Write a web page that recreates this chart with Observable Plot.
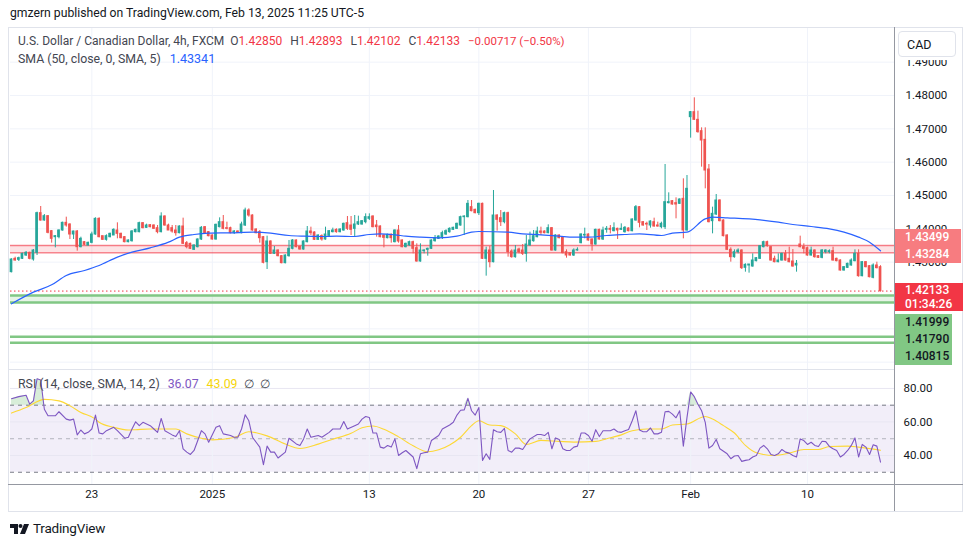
<!DOCTYPE html>
<html><head><meta charset="utf-8">
<script src="https://cdn.jsdelivr.net/npm/d3@7"></script>
<script src="https://cdn.jsdelivr.net/npm/@observablehq/plot@0.6"></script>
<style>
body{margin:0;background:#fff;font-family:Roboto,"Noto Sans",sans-serif;color:#131722;}
#root{position:relative;width:970px;height:545px;overflow:hidden;background:#fff;}
.abs{position:absolute;white-space:nowrap;}
.line{position:absolute;}
</style></head><body><div id="root"></div>
<script>
// ---------- data ----------
const opens = [1.4270,1.4310,1.4307,1.4310,1.4320,1.4328,1.4308,1.4328,1.4447,1.4425,
1.4438,1.4393,1.4375,1.4375,1.4395,1.4418,1.4413,1.4383,1.4392,1.4345,
1.4360,1.4350,1.4358,1.4383,1.4430,1.4378,1.4367,1.4375,1.4380,1.4395,
1.4385,1.4375,1.4360,1.4363,1.4390,1.4390,1.4417,1.4403,1.4411,1.4410,
1.4402,1.4390,1.4437,1.4410,1.4402,1.4395,1.4387,1.4407,1.4357,1.4355,
1.4337,1.4345,1.4368,1.4405,1.4390,1.4380,1.4368,1.4405,1.4420,1.4402,
1.4402,1.4388,1.4392,1.4387,1.4410,1.4455,1.4440,1.4398,1.4390,1.4375,
1.4300,1.4362,1.4325,1.4335,1.4318,1.4297,1.4318,1.4340,1.4365,1.4346,
1.4338,1.4360,1.4392,1.4389,1.4367,1.4378,1.4368,1.4379,1.4390,1.4397,
1.4390,1.4395,1.4417,1.4410,1.4400,1.4413,1.4413,1.4420,1.4430,1.4437,
1.4410,1.4407,1.4380,1.4372,1.4382,1.4360,1.4395,1.4365,1.4345,1.4350,
1.4360,1.4342,1.4302,1.4333,1.4337,1.4340,1.4363,1.4370,1.4375,1.4383,
1.4390,1.4397,1.4400,1.4410,1.4435,1.4435,1.4465,1.4457,1.4447,1.4475,
1.4310,1.4335,1.4300,1.4440,1.4432,1.4420,1.4447,1.4332,1.4315,1.4338,
1.4335,1.4325,1.4350,1.4363,1.4375,1.4392,1.4392,1.4387,1.4402,1.4335,
1.4380,1.4375,1.4330,1.4327,1.4320,1.4335,1.4357,1.4380,1.4383,1.4368,
1.4353,1.4397,1.4368,1.4397,1.4400,1.4393,1.4400,1.4397,1.4390,1.4401,
1.4393,1.4425,1.4465,1.4420,1.4415,1.4410,1.4420,1.4410,1.4405,1.4405,
1.4477,1.4483,1.4477,1.4475,1.4490,1.4395,1.4735,1.4750,1.4727,1.4693,
1.4667,1.4578,1.4423,1.4443,1.4485,1.4425,1.4380,1.4337,1.4315,1.4330,
1.4335,1.4283,1.4290,1.4287,1.4303,1.4310,1.4345,1.4360,1.4345,1.4310,
1.4300,1.4305,1.4325,1.4310,1.4302,1.4290,1.4353,1.4345,1.4342,1.4320,
1.4335,1.4318,1.4313,1.4330,1.4330,1.4333,1.4310,1.4305,1.4275,1.4283,
1.4290,1.4303,1.4325,1.4258,1.4300,1.4288,1.4253,1.4290,1.42850];
const highs = [1.4310,1.4315,1.4315,1.4327,1.4332,1.4330,1.4338,1.4450,1.4467,1.4443,
1.4440,1.4395,1.4380,1.4397,1.4420,1.4435,1.4415,1.4393,1.4395,1.4375,
1.4362,1.4360,1.4390,1.4433,1.4433,1.4378,1.4382,1.4387,1.4400,1.4418,
1.4387,1.4377,1.4367,1.4395,1.4399,1.4420,1.4419,1.4414,1.4413,1.4412,
1.4410,1.4448,1.4439,1.4414,1.4410,1.4410,1.4409,1.4432,1.4362,1.4357,
1.4352,1.4370,1.4407,1.4407,1.4392,1.4382,1.4414,1.4433,1.4440,1.4420,
1.4405,1.4395,1.4394,1.4420,1.4462,1.4460,1.4442,1.4400,1.4395,1.4377,
1.4378,1.4364,1.4347,1.4337,1.4320,1.4322,1.4365,1.4368,1.4367,1.4348,
1.4364,1.4407,1.4405,1.4391,1.4382,1.4382,1.4405,1.4395,1.4402,1.4400,
1.4400,1.4417,1.4437,1.4437,1.4440,1.4438,1.4425,1.4445,1.4445,1.4439,
1.4425,1.4409,1.4382,1.4384,1.4385,1.4397,1.4410,1.4367,1.4357,1.4363,
1.4363,1.4355,1.4355,1.4337,1.4342,1.4367,1.4380,1.4379,1.4393,1.4397,
1.4403,1.4405,1.4417,1.4438,1.4439,1.4485,1.4485,1.4459,1.4477,1.4477,
1.4345,1.4347,1.4515,1.4442,1.4455,1.4450,1.4450,1.4337,1.4350,1.4342,
1.4353,1.4380,1.4390,1.4395,1.4405,1.4405,1.4394,1.4412,1.4404,1.4382,
1.4382,1.4377,1.4337,1.4329,1.4340,1.4343,1.4385,1.4402,1.4385,1.4370,
1.4399,1.4399,1.4405,1.4407,1.4410,1.4418,1.4402,1.4415,1.4407,1.4403,
1.4430,1.4470,1.4467,1.4422,1.4420,1.4424,1.4432,1.4420,1.4420,1.4593,
1.4508,1.4485,1.4493,1.4490,1.4550,1.4560,1.4752,1.4793,1.4753,1.4703,
1.4703,1.4593,1.4465,1.4503,1.4487,1.4427,1.4382,1.4343,1.4337,1.4340,
1.4337,1.4295,1.4293,1.4325,1.4314,1.4350,1.4363,1.4363,1.4347,1.4318,
1.4325,1.4327,1.4335,1.4345,1.4338,1.4305,1.4378,1.4355,1.4345,1.4345,
1.4337,1.4320,1.4338,1.4337,1.4337,1.4345,1.4312,1.4307,1.4287,1.4297,
1.4310,1.4337,1.4337,1.4302,1.4302,1.4290,1.4295,1.4300,1.42893];
const lows = [1.4268,1.4303,1.4302,1.4308,1.4317,1.4307,1.4303,1.4320,1.4423,1.4423,
1.4385,1.4357,1.4343,1.4370,1.4393,1.4405,1.4368,1.4368,1.4333,1.4343,
1.4350,1.4348,1.4355,1.4381,1.4373,1.4365,1.4363,1.4373,1.4380,1.4370,
1.4370,1.4358,1.4358,1.4360,1.4388,1.4388,1.4400,1.4401,1.4403,1.4398,
1.4385,1.4388,1.4408,1.4398,1.4387,1.4378,1.4385,1.4353,1.4340,1.4338,
1.4335,1.4343,1.4365,1.4383,1.4376,1.4366,1.4366,1.4403,1.4397,1.4397,
1.4385,1.4383,1.4386,1.4385,1.4407,1.4435,1.4393,1.4385,1.4357,1.4295,
1.4278,1.4323,1.4323,1.4316,1.4295,1.4295,1.4315,1.4337,1.4343,1.4336,
1.4336,1.4358,1.4380,1.4365,1.4365,1.4363,1.4366,1.4377,1.4388,1.4387,
1.4388,1.4393,1.4395,1.4380,1.4375,1.4410,1.4411,1.4415,1.4425,1.4403,
1.4375,1.4373,1.4343,1.4370,1.4357,1.4358,1.4357,1.4343,1.4343,1.4348,
1.4325,1.4300,1.4300,1.4325,1.4318,1.4338,1.4360,1.4368,1.4368,1.4380,
1.4387,1.4395,1.4398,1.4408,1.4380,1.4433,1.4451,1.4445,1.4440,1.4308,
1.4258,1.4283,1.4298,1.4393,1.4407,1.4415,1.4315,1.4312,1.4312,1.4325,
1.4320,1.4300,1.4348,1.4360,1.4373,1.4380,1.4385,1.4385,1.4333,1.4333,
1.4370,1.4325,1.4312,1.4318,1.4317,1.4333,1.4355,1.4370,1.4363,1.4333,
1.4351,1.4366,1.4365,1.4387,1.4385,1.4391,1.4368,1.4395,1.4387,1.4391,
1.4391,1.4423,1.4403,1.4408,1.4395,1.4402,1.4405,1.4405,1.4400,1.4398,
1.4475,1.4471,1.4430,1.4473,1.4370,1.4393,1.4672,1.4725,1.4687,1.4585,
1.4520,1.4418,1.4385,1.4440,1.4421,1.4376,1.4335,1.4300,1.4312,1.4325,
1.4278,1.4270,1.4267,1.4285,1.4301,1.4308,1.4343,1.4345,1.4303,1.4298,
1.4298,1.4303,1.4303,1.4298,1.4285,1.4270,1.4343,1.4325,1.4318,1.4318,
1.4312,1.4311,1.4310,1.4325,1.4325,1.4303,1.4301,1.4273,1.4273,1.4281,
1.4288,1.4301,1.4255,1.4256,1.4283,1.4253,1.4250,1.4280,1.42102];
const closes = [1.4308,1.4305,1.4312,1.4325,1.4328,1.4310,1.4335,1.4447,1.4425,1.4438,
1.4388,1.4370,1.4378,1.4395,1.4418,1.4410,1.4383,1.4392,1.4345,1.4370,
1.4352,1.4358,1.4383,1.4430,1.4375,1.4367,1.4378,1.4385,1.4397,1.4385,
1.4372,1.4360,1.4365,1.4392,1.4397,1.4417,1.4402,1.4410,1.4405,1.4400,
1.4390,1.4437,1.4410,1.4395,1.4392,1.4387,1.4407,1.4355,1.4345,1.4340,
1.4350,1.4368,1.4403,1.4385,1.4378,1.4368,1.4412,1.4420,1.4400,1.4400,
1.4387,1.4392,1.4388,1.4413,1.4455,1.4440,1.4395,1.4387,1.4372,1.4298,
1.4362,1.4325,1.4335,1.4318,1.4297,1.4320,1.4340,1.4365,1.4345,1.4338,
1.4362,1.4392,1.4387,1.4367,1.4380,1.4368,1.4383,1.4393,1.4395,1.4390,
1.4398,1.4415,1.4400,1.4397,1.4413,1.4420,1.4423,1.4435,1.4435,1.4405,
1.4405,1.4375,1.4373,1.4382,1.4372,1.4395,1.4362,1.4345,1.4355,1.4360,
1.4340,1.4302,1.4335,1.4335,1.4340,1.4365,1.4372,1.4377,1.4387,1.4393,
1.4400,1.4403,1.4415,1.4435,1.4437,1.4475,1.4453,1.4447,1.4475,1.4310,
1.4335,1.4300,1.4440,1.4427,1.4420,1.4447,1.4330,1.4315,1.4335,1.4330,
1.4325,1.4353,1.4365,1.4378,1.4392,1.4388,1.4387,1.4402,1.4335,1.4380,
1.4372,1.4327,1.4320,1.4320,1.4335,1.4337,1.4383,1.4382,1.4365,1.4353,
1.4397,1.4368,1.4395,1.4400,1.4397,1.4402,1.4395,1.4400,1.4403,1.4393,
1.4428,1.4465,1.4418,1.4410,1.4413,1.4422,1.4407,1.4407,1.4415,1.4480,
1.4480,1.4473,1.4473,1.4488,1.4395,1.4520,1.4750,1.4727,1.4690,1.4665,
1.4575,1.4420,1.4445,1.4485,1.4423,1.4378,1.4337,1.4315,1.4330,1.4335,
1.4282,1.4292,1.4293,1.4305,1.4312,1.4348,1.4360,1.4348,1.4305,1.4300,
1.4305,1.4325,1.4305,1.4300,1.4287,1.4295,1.4345,1.4340,1.4320,1.4335,
1.4315,1.4313,1.4335,1.4335,1.4333,1.4305,1.4303,1.4275,1.4285,1.4295,
1.4305,1.4325,1.4258,1.4300,1.4285,1.4255,1.4290,1.4282,1.42133];

const smaIdx = [0,6,11,15,20,24,29,33,38,43,46,50,54,60,66,71,76,80,85,89,94,98,101,105,108,112,117,122,126,128,136,140,145,150,154,158,163,168,172,178,181,185,190,192,196,205,210,214,219,224,228,232,235,238];
const smaVal = [1.4175,1.4210,1.4232,1.4260,1.4275,1.4290,1.4315,1.4330,1.4343,1.4360,1.4375,1.4383,1.4387,1.4388,1.4390,1.4387,1.4380,1.4378,1.4377,1.4378,1.4377,1.4383,1.4385,1.4382,1.4378,1.4375,1.4373,1.4378,1.4390,1.4392,1.4390,1.4385,1.4382,1.4378,1.4375,1.4375,1.4380,1.4383,1.4385,1.4380,1.4387,1.4390,1.4430,1.4435,1.4433,1.4427,1.4420,1.4413,1.4407,1.4400,1.4390,1.4375,1.4360,1.43341];

const rsiIdx = [0,2,4,5,6,7,8,9,10,12,13,15,16,17,18,19,20,21,22,23,24,25,26,28,29,31,32,33,34,35,36,38,39,40,41,42,44,45,46,47,48,49,50,52,53,54,56,57,58,60,61,62,63,64,65,66,67,68,69,70,71,72,73,75,76,78,79,80,81,82,84,85,87,88,90,91,92,94,95,96,97,98,99,100,101,102,103,104,105,106,107,108,110,111,112,113,114,115,117,118,120,121,122,123,124,125,126,127,128,129,130,131,132,133,134,135,136,137,138,139,140,141,142,144,145,146,147,148,149,150,151,152,153,154,155,156,157,158,159,160,161,162,163,164,165,166,167,168,169,170,171,172,173,174,175,176,177,178,179,180,181,182,183,184,185,186,187,188,189,190,191,192,193,194,196,197,198,199,200,201,202,203,204,205,206,207,208,209,210,211,212,213,214,215,216,217,218,219,220,221,222,223,224,225,226,227,228,229,230,231,232,233,234,235,236,237,238];
const rsiVal = [73.9,75.1,75.9,70.6,72.6,85.8,85.0,67.6,63.7,63.7,66.1,61.7,61.1,61.7,52.3,55.2,52.9,53.8,55.8,64.1,53.4,52.9,54.8,56.8,54.8,50.3,50.9,55.8,60.1,57.8,59.8,57.8,55.8,53.8,62.1,54.8,52.3,51.3,54.8,44.0,42.0,40.6,43.0,54.8,52.9,47.9,56.8,57.8,52.9,51.9,50.9,50.9,55.8,64.3,60.7,50.9,47.9,45.0,34.5,45.6,42.0,42.0,38.5,42.0,50.3,46.9,46.0,49.9,55.8,50.9,51.9,50.9,53.8,55.8,55.8,60.3,55.8,57.8,58.8,61.7,63.3,62.7,53.4,53.4,45.0,44.4,46.0,45.0,49.9,40.0,41.6,43.0,39.1,32.2,41.0,41.6,42.0,48.9,51.9,55.8,58.2,59.8,64.1,67.0,67.2,74.1,66.7,64.1,68.6,37.1,41.0,37.7,55.4,54.2,53.8,56.2,43.0,42.0,44.4,44.4,43.6,46.9,49.9,52.5,52.5,51.9,53.8,44.0,50.5,49.5,44.0,43.0,43.0,45.0,45.6,53.4,53.4,51.9,48.5,55.4,51.3,54.8,54.8,54.8,55.8,54.2,53.8,54.8,55.5,60.7,66.7,55.2,54.2,54.2,56.4,52.9,52.9,53.8,66.1,66.3,64.7,62.5,66.7,45.6,62.7,77.9,75.1,70.6,66.7,59.8,44.4,46.0,49.5,44.0,41.0,38.1,39.7,40.0,36.5,37.1,37.5,39.1,40.0,44.4,46.0,44.0,40.6,40.0,41.0,43.6,42.0,41.4,40.0,39.1,49.9,48.9,46.6,47.9,46.0,45.4,48.5,48.3,45.4,44.0,43.0,39.1,40.6,43.0,46.0,50.5,39.1,46.6,45.0,40.6,46.4,45.6,36.07];

const rsiMaIdx = [0,4,9,13,16,19,23,24,28,32,34,38,45,48,52,55,61,65,67,70,75,79,84,88,93,96,99,102,106,110,114,117,120,123,126,128,131,134,138,141,145,150,154,160,163,167,170,174,178,181,185,190,192,195,198,201,204,209,213,217,221,224,229,232,238];
const rsiMaVal = [65.3,68.6,73.5,72.6,69.7,65.7,61.7,59.8,56.8,55.2,55.4,55.8,55.8,52.9,50.3,49.3,50.7,54.2,53.6,51.7,46.8,44.2,46.8,49.7,53.2,56.6,57.6,55.6,51.1,45.8,42.2,43.4,46.3,50.9,57.8,60.7,58.2,57.8,52.9,46.6,49.0,48.4,48.0,48.4,50.0,52.3,54.8,55.8,55.8,58.2,58.8,63.3,61.7,57.8,53.4,46.0,41.6,40.0,41.4,43.6,43.6,45.4,45.6,45.0,43.09];

const priceTicks = [1.40,1.41,1.42,1.43,1.44,1.45,1.46,1.47,1.48,1.49];
const priceTickLabels = [1.43,1.44,1.45,1.46,1.47,1.48,1.49];
const rsiTicks = [80,60,40];
const dateIdx = [22,55,98,128,158,186,218];
const dateLabels = ["23","2025","13","20","27","Feb","10"];
const redLevels = [1.43499,1.43284];
const greenBand = [1.41999,1.41790];
const greenLower = [1.40760,1.40580];
const greenLabels = [1.41999,1.41790,1.40815];
const legendOHLC = {O:"1.42850",H:"1.42893",L:"1.42102",C:"1.42133",chg:"\u22120.00717 (\u22120.50%)"};
const countdown = "01:34:26";

// ---------- styling / layout ----------
const FONT = "Roboto, 'Noto Sans', sans-serif";
const UP = "#26a69a", DOWN = "#ef5350", GRID = "#f0f3fa";
const xDomain = [-0.274, 241.83];
const root = document.getElementById("root");

const candles = opens.map((o, i) => ({i, open: o, high: highs[i], low: lows[i], close: closes[i]}));
const col = d => d.close >= d.open ? UP : DOWN;
const sma = smaIdx.map((i, k) => ({i, v: smaVal[k]}));
const rsi = rsiIdx.map((i, k) => ({i, v: rsiVal[k]}));
const rsiMa = rsiMaIdx.map((i, k) => ({i, v: rsiMaVal[k]}));
const last = closes[closes.length - 1];

function place(el, left, top) {
  const d = document.createElement("div");
  d.className = "abs"; d.style.left = left + "px"; d.style.top = top + "px";
  d.appendChild(el); root.appendChild(d); return d;
}

const pricePlot = Plot.plot({
  width: 970, height: 342, marginLeft: 10, marginRight: 76, marginTop: 0, marginBottom: 0,
  style: {fontFamily: FONT, fontSize: "11.5px", background: "transparent", overflow: "visible"},
  x: {domain: xDomain, axis: null},
  y: {domain: [1.3978, 1.5004], axis: null},
  color: {type: "identity"},
  marks: [
    Plot.ruleY(priceTicks, {stroke: GRID}),
    Plot.ruleX(dateIdx, {stroke: GRID}),
    Plot.rect([redLevels], {y1: d => d[0], y2: d => d[1], fill: "#f23645", fillOpacity: 0.14}),
    Plot.ruleY(redLevels, {stroke: "#f23645", strokeOpacity: 0.6, strokeWidth: 1.5}),
    Plot.rect([greenBand], {y1: d => d[0], y2: d => d[1], fill: "#4caf50", fillOpacity: 0.14}),
    Plot.ruleY(greenBand, {stroke: "#81c784", strokeWidth: 2.5}),
    Plot.ruleY(greenLower, {stroke: "#81c784", strokeWidth: 2.5}),
    Plot.ruleY([last], {stroke: "#f23645", strokeDasharray: "1.5,2.5"}),
    Plot.ruleX(candles, {x: "i", y1: "low", y2: "high", stroke: col, strokeWidth: 1}),
    Plot.rectY(candles, {x1: d => d.i - 0.37, x2: d => d.i + 0.37, y1: "open", y2: "close", fill: col, insetTop: -0.5, insetBottom: -0.5}),
    Plot.line(sma, {x: "i", y: "v", stroke: "#2962ff", strokeWidth: 1.2, curve: "monotone-x"}),
    Plot.axisY({ticks: priceTickLabels, anchor: "right", label: null, tickSize: 0, tickPadding: 11, tickFormat: d => d.toFixed(5), fill: "#131722"})
  ]
});
place(pricePlot, 0, 27);

const rsiPlot = Plot.plot({
  width: 970, height: 141, marginLeft: 10, marginRight: 76, marginTop: 0, marginBottom: 27,
  style: {fontFamily: FONT, fontSize: "11.5px", background: "transparent", overflow: "visible"},
  x: {domain: xDomain, axis: null},
  y: {domain: [22.7, 90.7], axis: null},
  marks: [
    Plot.rect([0], {y1: 30, y2: 70, fill: "#7e57c2", fillOpacity: 0.1}),
    Plot.ruleY([80, 60, 40], {stroke: "#e8e6f2"}),
    Plot.ruleX(dateIdx, {stroke: GRID}),
    Plot.ruleY([70, 30], {stroke: "#787b86", strokeDasharray: "4,4"}),
    Plot.ruleY([50], {stroke: "#787b86", strokeOpacity: 0.5, strokeDasharray: "4,4"}),
    Plot.areaY(rsi, {x: "i", y1: 70, y2: d => Math.max(70, d.v), fill: "#4caf50", fillOpacity: 0.22}),
    Plot.line(rsiMa, {x: "i", y: "v", stroke: "#fdd835", strokeWidth: 1.1, curve: "monotone-x"}),
    Plot.line(rsi, {x: "i", y: "v", stroke: "#7e57c2", strokeWidth: 1.1}),
    Plot.axisY({ticks: rsiTicks, anchor: "right", label: null, tickSize: 0, tickPadding: 9, tickFormat: d => d.toFixed(2), fill: "#131722"}),
    Plot.axisX({ticks: dateIdx, anchor: "bottom", label: null, tickSize: 0, tickPadding: 5, tickFormat: d => dateLabels[dateIdx.indexOf(d)], fill: "#131722"})
  ]
});
place(rsiPlot, 0, 370);

// ---------- chrome: frame lines ----------
function hline(x1, x2, y, color) { const d = document.createElement("div"); d.className = "line";
  Object.assign(d.style, {left: x1 + "px", top: y + "px", width: (x2 - x1) + "px", height: "1px", background: color}); root.appendChild(d); }
function vline(x, y1, y2, color) { const d = document.createElement("div"); d.className = "line";
  Object.assign(d.style, {left: x + "px", top: y1 + "px", width: "1px", height: (y2 - y1) + "px", background: color}); root.appendChild(d); }
hline(8, 963, 27, "#e0e3eb");
hline(8, 963, 511, "#e0e3eb");
vline(8, 27, 511, "#e0e3eb");
vline(962, 27, 511, "#e0e3eb");
hline(8, 895, 369, "#e0e3eb");
hline(8, 963, 484, "#9598a1");
vline(894, 27, 511, "#9598a1");

// ---------- texts ----------
function text(html, left, top, style) {
  const d = document.createElement("div"); d.className = "abs"; d.innerHTML = html;
  Object.assign(d.style, {left: left + "px", top: top + "px"}, style || {}); root.appendChild(d); return d;
}
text("gmzern published on TradingView.com, Feb 13, 2025 11:25 UTC-5", 10, 6, {fontSize: "12.2px", color: "#131722"});
const R = "#f23645", G = "#434651";
text(`<span style="color:${G}">U.S. Dollar / Canadian Dollar, 4h, FXCM</span>` +
  `<span style="margin-left:6px;color:${G}">O</span><span style="color:${R}">${legendOHLC.O}</span>` +
  `<span style="margin-left:8px;color:${G}">H</span><span style="color:${R}">${legendOHLC.H}</span>` +
  `<span style="margin-left:8px;color:${G}">L</span><span style="color:${R}">${legendOHLC.L}</span>` +
  `<span style="margin-left:8px;color:${G}">C</span><span style="color:${R}">${legendOHLC.C}</span>` +
  `<span style="margin-left:8px;color:${R};font-size:11.5px">${legendOHLC.chg}</span>`, 18, 34, {fontSize: "12px"});
text(`<span style="color:${G}">SMA (50, close, 0, SMA, 5)</span><span style="margin-left:9px;color:#2962ff;font-size:12.5px">${smaVal[smaVal.length-1].toFixed(5)}</span>`, 18, 51, {fontSize: "12.3px"});
text(`<span style="color:${G}">RSI (14, close, SMA, 14, 2)</span><span style="margin-left:8px;color:#7e57c2">${rsiVal[rsiVal.length-1].toFixed(2)}</span>` +
  `<span style="margin-left:8px;color:#f5d50a">${rsiMaVal[rsiMaVal.length-1].toFixed(2)}</span>` +
  `<span style="margin-left:7px;color:${G}">\u2205</span><span style="margin-left:6px;color:${G}">\u2205</span>`, 18, 377, {fontSize: "12.3px"});

// CAD box (with white backing that hides the top of the 1.49000 label, as in the reference)
text("", 895, 28, {width: "66px", height: "32px", background: "#fff"});
text("CAD", 898, 31, {width: "58px", height: "26px", lineHeight: "26px", boxSizing: "border-box", paddingLeft: "8px",
  border: "1px solid #e0e3eb", borderRadius: "4px", background: "#fff", fontSize: "12.5px", color: "#131722"});

// price labels on the axis
const ys = v => 27 + pricePlot.scale("y").apply(v);
function labelBox(lines, top, width, bg, color, lh) {
  text(lines.join("<br>"), 895, top, {width: width + "px", boxSizing: "border-box", paddingLeft: "10px", background: bg,
    color, fontSize: "12px", lineHeight: lh + "px", fontWeight: "500"});
}
const pinkMid = (ys(redLevels[0]) + ys(redLevels[1])) / 2;
labelBox(redLevels.map(v => v.toFixed(5)), pinkMid - 20, 66, "#f77c80", "#fff", 17);
const redTop = ys(last) - 8;
labelBox([last.toFixed(5), countdown], redTop, 68, "#f23645", "#fff", 14);
labelBox(greenLabels.map(v => v.toFixed(5)), redTop + 31, 57, "#81c784", "#131722", 17);

// footer
const logo = `<svg width="19" height="10" viewBox="0 0 19 10" style="vertical-align:-1px"><path d="M0 0h8v10h-4v-6h-4z" fill="#131722"/><circle cx="10.5" cy="2" r="2" fill="#131722"/><path d="M14 0h5l-4 10h-5z" fill="#131722"/></svg>`;
text(logo + `<span style="margin-left:4px;font-size:13.5px;color:#131722;letter-spacing:-0.2px">TradingView</span>`, 10, 518, {});
</script></body></html>
